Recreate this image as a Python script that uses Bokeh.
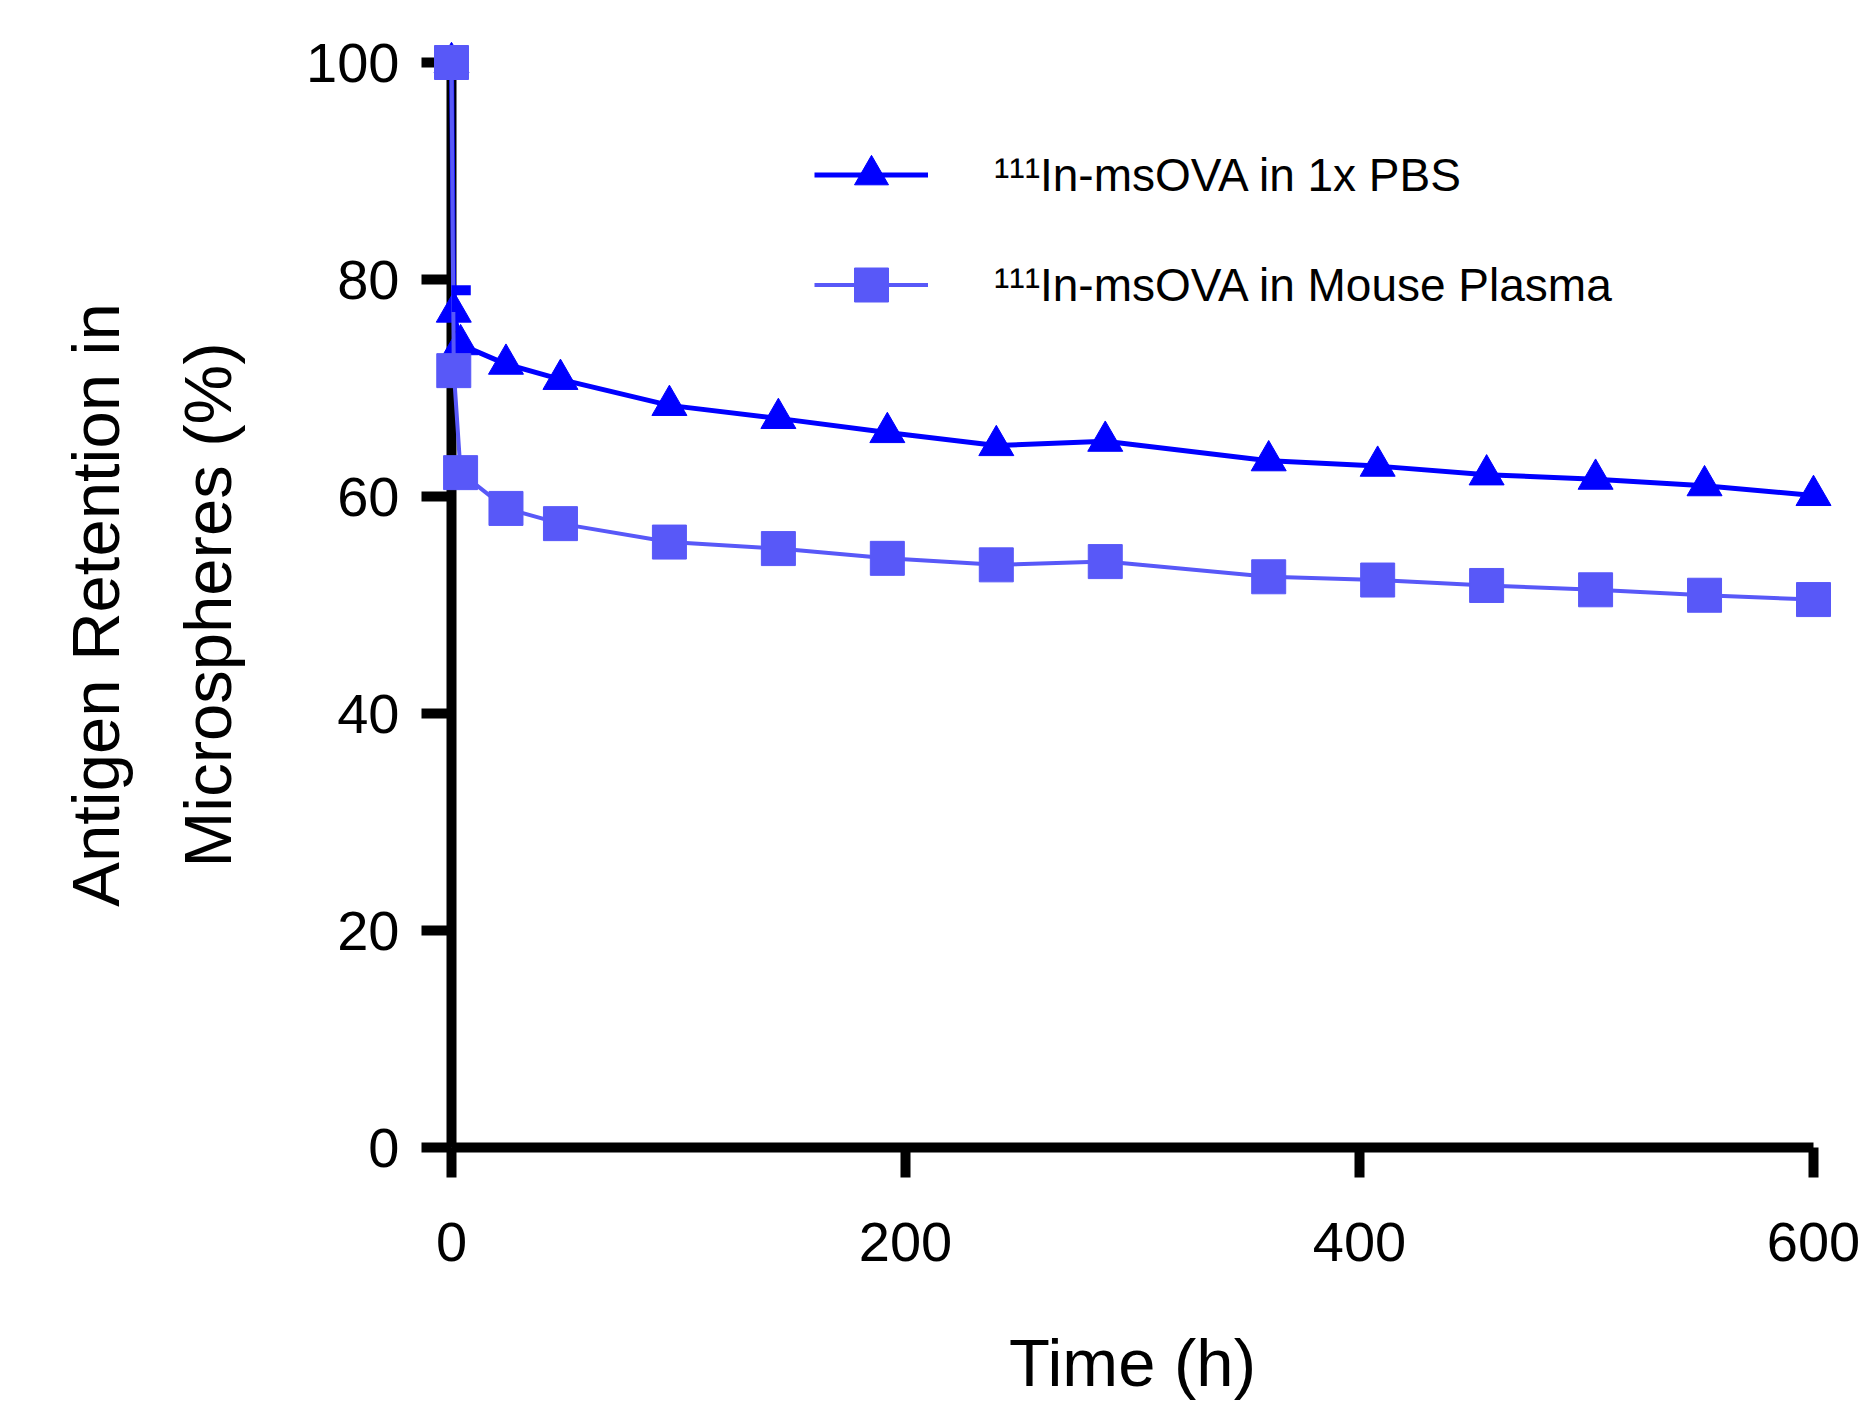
from bokeh.plotting import figure
from bokeh.models import (Range1d, FixedTicker, Legend, LegendItem, Whisker,
                          ColumnDataSource, TeeHead)
from bokeh.embed import file_html
from bokeh.resources import INLINE

# ---- data ----
time_h = [0, 1, 4, 24, 48, 96, 144, 192, 240, 288, 360, 408, 456, 504, 552, 600]
pbs = [100, 77.0, 74.0, 72.2, 70.8, 68.4, 67.2, 65.9, 64.7, 65.1,
       63.3, 62.8, 62.0, 61.6, 61.0, 60.1]
pbs_err = [0, 2.0, 0, 0, 0, 0, 0, 0, 0, 0, 0, 0, 0, 0, 0, 0]
plasma = [100, 71.6, 62.2, 58.9, 57.5, 55.8, 55.2, 54.3, 53.7, 54.0,
          52.6, 52.3, 51.8, 51.4, 50.9, 50.5]
label_pbs = "\u00b9\u00b9\u00b9In-msOVA in 1x PBS"
label_plasma = "\u00b9\u00b9\u00b9In-msOVA in Mouse Plasma"
x_ticks = [0, 200, 400, 600]
y_ticks = [0, 20, 40, 60, 80, 100]
x_title = "Time (h)"
y_title = "Antigen Retention in\nMicrospheres (%)"

C_PBS = "#0000FF"
C_PLASMA = "#5858F8"
FONT = "Liberation Sans"

p = figure(width=1871, height=1402, title=None,
           x_range=Range1d(0, 600), y_range=Range1d(0, 100),
           output_backend="svg", toolbar_location=None,
           min_border_left=451, min_border_right=58,
           min_border_top=62, min_border_bottom=252)
p.outline_line_color = None
p.grid.visible = False
p.background_fill_color = "white"
p.border_fill_color = "white"

for ax in (p.xaxis[0], p.yaxis[0]):
    ax.axis_line_width = 10
    ax.axis_line_color = "black"
    ax.major_tick_line_width = 10
    ax.major_tick_line_color = "black"
    ax.major_tick_out = 30
    ax.major_tick_in = 0
    ax.minor_tick_line_color = None
    ax.major_label_text_font = FONT
    ax.major_label_text_font_size = "56px"
    ax.major_label_text_color = "black"
    ax.axis_label_text_font = FONT
    ax.axis_label_text_font_style = "normal"
    ax.axis_label_text_font_size = "67px"
    ax.axis_label_text_color = "black"

p.xaxis.ticker = FixedTicker(ticks=x_ticks)
p.yaxis.ticker = FixedTicker(ticks=y_ticks)
p.xaxis.axis_label = x_title
p.yaxis.axis_label = y_title
p.xaxis.major_label_standoff = 45
p.yaxis.major_label_standoff = 22
p.xaxis.axis_label_standoff = 61
p.yaxis.axis_label_standoff = 58
p.yaxis.axis_label_text_line_height = 1.49

# error bar (upper only, visible on the 1 h PBS point)
ex, eu, el = [], [], []
for t, v, e in zip(time_h, pbs, pbs_err):
    if e > 0:
        ex.append(t); eu.append(v + e); el.append(v)
err_src = ColumnDataSource(dict(x=ex, upper=eu, lower=el))
w = Whisker(base="x", upper="upper", lower="lower", source=err_src,
            line_color=C_PBS, line_width=5, level="overlay",
            upper_head=TeeHead(size=34, line_color=C_PBS, line_width=10),
            lower_head=None)
p.add_layout(w)

src_pbs = ColumnDataSource(dict(t=time_h, v=pbs))
src_pl = ColumnDataSource(dict(t=time_h, v=plasma))

l1 = p.line("t", "v", source=src_pbs, line_color=C_PBS, line_width=5,
            level="overlay")
m1 = p.scatter("t", "v", source=src_pbs, marker="triangle", size=35,
               fill_color=C_PBS, line_color=C_PBS, line_width=1,
               level="overlay")
l2 = p.line("t", "v", source=src_pl, line_color=C_PLASMA, line_width=4,
            level="overlay")
m2 = p.scatter("t", "v", source=src_pl, marker="square", size=34,
               fill_color=C_PLASMA, line_color=C_PLASMA, line_width=1,
               level="overlay")

legend = Legend(items=[LegendItem(label=label_pbs, renderers=[l1, m1]),
                       LegendItem(label=label_plasma, renderers=[l2, m2])],
                location=(363, 820), margin=0, padding=0,
                glyph_width=114, glyph_height=85, label_height=85,
                spacing=25, label_standoff=66,
                border_line_color=None, background_fill_alpha=0,
                label_text_font=FONT, label_text_font_size="46px",
                label_text_color="black")
p.add_layout(legend)

open("out.html", "w").write(file_html(p, INLINE))
